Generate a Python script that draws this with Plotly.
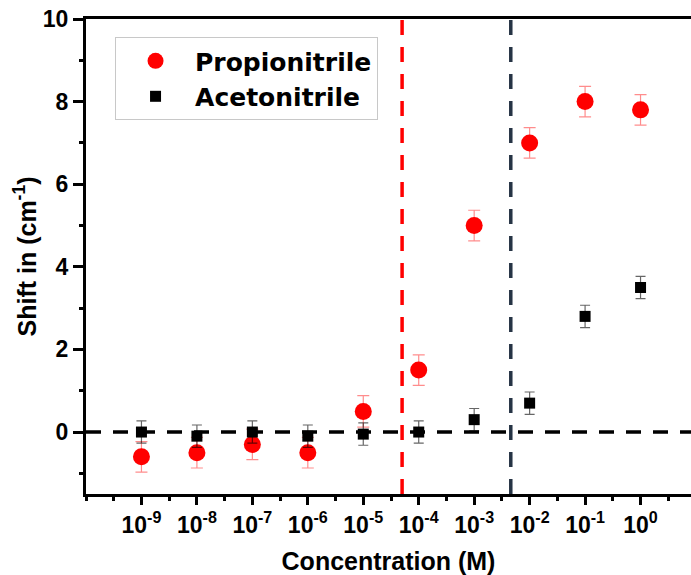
import plotly.graph_objects as go

# Data (x stored as log10 of concentration in M)
log_conc = [-9, -8, -7, -6, -5, -4, -3, -2, -1, 0]
propionitrile = [-0.6, -0.5, -0.3, -0.5, 0.5, 1.5, 5.0, 7.0, 8.0, 7.8]
propionitrile_err = [0.37, 0.37, 0.37, 0.37, 0.38, 0.37, 0.37, 0.37, 0.37, 0.37]
acetonitrile = [0.0, -0.1, 0.0, -0.1, -0.05, 0.0, 0.3, 0.7, 2.8, 3.5]
acetonitrile_err = [0.27, 0.27, 0.27, 0.27, 0.27, 0.27, 0.27, 0.27, 0.27, 0.27]
tick_exps = [-9, -8, -7, -6, -5, -4, -3, -2, -1, 0]
tick_labels = [f"10<sup>{e}</sup>" for e in tick_exps]
red_line_x = -4.3    # ~5e-5 M
navy_line_x = -2.34  # ~4.6e-3 M
x_range = [-10, 0.91]
y_range = [-1.5, 10]

FONT = "Arial, Liberation Sans, sans-serif"
LEGEND_FONT = "DejaVu Sans, Arial, sans-serif"

fig = go.Figure()

# vertical dashed lines
fig.add_trace(go.Scatter(x=[red_line_x, red_line_x], y=y_range, mode="lines",
                         line=dict(color="#ff0000", width=3.5, dash="15px,12px"),
                         showlegend=False, hoverinfo="skip"))
fig.add_trace(go.Scatter(x=[navy_line_x, navy_line_x], y=y_range, mode="lines",
                         line=dict(color="#263445", width=3.5, dash="15px,12px"),
                         showlegend=False, hoverinfo="skip"))
# horizontal zero line
fig.add_trace(go.Scatter(x=x_range, y=[0, 0], mode="lines",
                         line=dict(color="black", width=3.5, dash="15px,12px"),
                         showlegend=False, hoverinfo="skip"))

fig.add_trace(go.Scatter(
    x=log_conc, y=propionitrile, mode="markers", name="Propionitrile",
    marker=dict(symbol="circle", size=17, color="#ff0000"),
    error_y=dict(type="data", array=propionitrile_err, color="rgba(255,0,0,0.45)",
                 thickness=1.2, width=6)))
fig.add_trace(go.Scatter(
    x=log_conc, y=acetonitrile, mode="markers", name="Acetonitrile",
    marker=dict(symbol="square", size=11, color="black"),
    error_y=dict(type="data", array=acetonitrile_err, color="rgba(0,0,0,0.6)",
                 thickness=1.2, width=5)))

fig.update_layout(
    width=691, height=575,
    margin=dict(l=86, r=0, t=19, b=81),
    plot_bgcolor="white", paper_bgcolor="white",
    font=dict(family=FONT, color="black"),
    showlegend=True,
    legend=dict(x=0.048, y=0.962, xanchor="left", yanchor="top",
                bgcolor="white", bordercolor="#c8c8c8", borderwidth=1,
                font=dict(family=LEGEND_FONT, size=25, weight="bold"),
                itemwidth=69, tracegroupgap=0),
    xaxis=dict(
        range=x_range, showgrid=False, zeroline=False,
        showline=True, linecolor="black", linewidth=3, mirror=True,
        tickmode="array", tickvals=tick_exps, ticktext=tick_labels,
        ticks="outside", ticklen=8, tickwidth=2.5, tickcolor="black",
        tickfont=dict(family=FONT, size=23, weight="bold"),
        minor=dict(dtick=0.5, tick0=0, ticks="outside", ticklen=4, tickwidth=2.5, tickcolor="black"),
        title=dict(text="Concentration (M)", font=dict(family=FONT, size=25, weight="bold"), standoff=20),
    ),
    yaxis=dict(
        range=y_range, showgrid=False, zeroline=False,
        showline=True, linecolor="black", linewidth=3, mirror=False,
        tickmode="linear", tick0=0, dtick=2,
        ticks="outside", ticklen=10, tickwidth=2.5, tickcolor="black",
        tickfont=dict(family=FONT, size=23, weight="bold"),
        minor=dict(dtick=1, tick0=0, ticks="outside", ticklen=4, tickwidth=2.5, tickcolor="black"),
        title=dict(text="Shift in (cm<sup>-1</sup>)", font=dict(family=FONT, size=25, weight="bold"), standoff=0),
    ),
)

fig.write_html("out.html")
